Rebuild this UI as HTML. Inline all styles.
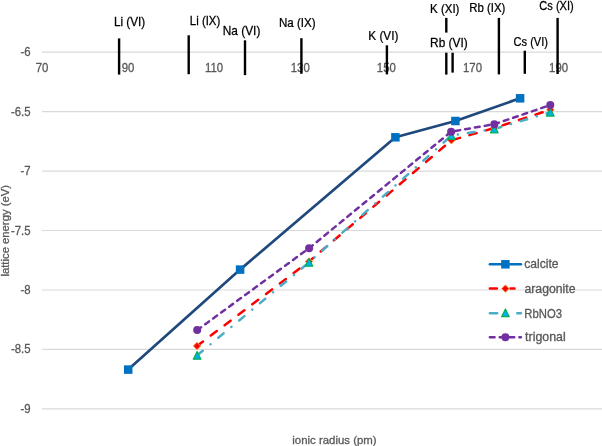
<!DOCTYPE html>
<html><head><meta charset="utf-8"><style>
html,body{margin:0;padding:0;background:#fff;}
body{width:602px;height:446px;overflow:hidden;}
svg{display:block;will-change:transform;font-family:"Liberation Sans", sans-serif;}
</style></head><body>
<svg width="602" height="446" viewBox="0 0 602 446">
<rect width="602" height="446" fill="#fff"/>
<line x1="42" y1="52.10" x2="602" y2="52.10" stroke="#D9D9D9" stroke-width="1.2"/>
<line x1="42" y1="111.57" x2="602" y2="111.57" stroke="#D9D9D9" stroke-width="1.2"/>
<line x1="42" y1="171.04" x2="602" y2="171.04" stroke="#D9D9D9" stroke-width="1.2"/>
<line x1="42" y1="230.51" x2="602" y2="230.51" stroke="#D9D9D9" stroke-width="1.2"/>
<line x1="42" y1="289.98" x2="602" y2="289.98" stroke="#D9D9D9" stroke-width="1.2"/>
<line x1="42" y1="349.45" x2="602" y2="349.45" stroke="#D9D9D9" stroke-width="1.2"/>
<line x1="42" y1="408.92" x2="602" y2="408.92" stroke="#D9D9D9" stroke-width="1.2"/>
<text transform="translate(8.7 276.54) rotate(-90) scale(0.9912 1)" font-size="11.4" fill="#595959" stroke="#595959" stroke-width="0.3">lattice energy (eV)</text>
<text transform="translate(35.64 72.20) scale(0.9500 1)" font-size="12" fill="#595959" stroke="#595959" stroke-width="0.3">70</text>
<text transform="translate(121.76 72.20) scale(0.9500 1)" font-size="12" fill="#595959" stroke="#595959" stroke-width="0.3">90</text>
<text transform="translate(205.03 72.20) scale(0.9500 1)" font-size="12" fill="#595959" stroke="#595959" stroke-width="0.3">110</text>
<text transform="translate(290.73 72.20) scale(0.9500 1)" font-size="12" fill="#595959" stroke="#595959" stroke-width="0.3">130</text>
<text transform="translate(376.85 72.20) scale(0.9500 1)" font-size="12" fill="#595959" stroke="#595959" stroke-width="0.3">150</text>
<text transform="translate(462.97 72.20) scale(0.9500 1)" font-size="12" fill="#595959" stroke="#595959" stroke-width="0.3">170</text>
<text transform="translate(549.09 72.20) scale(0.9500 1)" font-size="12" fill="#595959" stroke="#595959" stroke-width="0.3">190</text>
<line x1="119.1" y1="38.4" x2="119.1" y2="74.6" stroke="#000" stroke-width="2.4"/>
<line x1="188.7" y1="35.3" x2="188.7" y2="74.2" stroke="#000" stroke-width="2.4"/>
<line x1="245" y1="40.3" x2="245" y2="75.1" stroke="#000" stroke-width="2.4"/>
<line x1="301.4" y1="38.2" x2="301.4" y2="73.8" stroke="#000" stroke-width="2.4"/>
<line x1="386.9" y1="45.3" x2="386.9" y2="74.4" stroke="#000" stroke-width="2.4"/>
<line x1="446.3" y1="17.9" x2="446.3" y2="32.6" stroke="#000" stroke-width="2.4"/>
<line x1="446.3" y1="52.7" x2="446.3" y2="74.6" stroke="#000" stroke-width="2.4"/>
<line x1="452.6" y1="52.7" x2="452.6" y2="72.6" stroke="#000" stroke-width="2.4"/>
<line x1="498.9" y1="17.9" x2="498.9" y2="74.4" stroke="#000" stroke-width="2.4"/>
<line x1="524.8" y1="50.7" x2="524.8" y2="73.8" stroke="#000" stroke-width="2.4"/>
<line x1="557.6" y1="17.9" x2="557.6" y2="74" stroke="#000" stroke-width="2.4"/>
<text transform="translate(114.02 26.30) scale(0.9752 1)" font-size="12" fill="#000" stroke="#000" stroke-width="0.25">Li (VI)</text>
<text transform="translate(189.85 24.80) scale(0.9521 1)" font-size="12" fill="#000" stroke="#000" stroke-width="0.25">Li (IX)</text>
<text transform="translate(222.71 34.70) scale(0.9903 1)" font-size="12" fill="#000" stroke="#000" stroke-width="0.25">Na (VI)</text>
<text transform="translate(278.93 26.80) scale(0.9683 1)" font-size="12" fill="#000" stroke="#000" stroke-width="0.25">Na (IX)</text>
<text transform="translate(368.32 39.60) scale(0.9801 1)" font-size="12" fill="#000" stroke="#000" stroke-width="0.25">K (VI)</text>
<text transform="translate(430.04 13.20) scale(0.9593 1)" font-size="12" fill="#000" stroke="#000" stroke-width="0.25">K (XI)</text>
<text transform="translate(430.11 46.60) scale(0.9903 1)" font-size="12" fill="#000" stroke="#000" stroke-width="0.25">Rb (VI)</text>
<text transform="translate(469.15 11.80) scale(0.9517 1)" font-size="12" fill="#000" stroke="#000" stroke-width="0.25">Rb (IX)</text>
<text transform="translate(513.52 46.10) scale(0.9250 1)" font-size="12" fill="#000" stroke="#000" stroke-width="0.25">Cs (VI)</text>
<text transform="translate(539.32 9.60) scale(0.9222 1)" font-size="12" fill="#000" stroke="#000" stroke-width="0.25">Cs (XI)</text>
<text transform="translate(20.48 56.10) scale(0.9500 1)" font-size="12" fill="#595959" stroke="#595959" stroke-width="0.3">-6</text>
<text transform="translate(10.98 115.57) scale(0.9500 1)" font-size="12" fill="#595959" stroke="#595959" stroke-width="0.3">-6.5</text>
<text transform="translate(20.48 175.04) scale(0.9500 1)" font-size="12" fill="#595959" stroke="#595959" stroke-width="0.3">-7</text>
<text transform="translate(10.98 234.51) scale(0.9500 1)" font-size="12" fill="#595959" stroke="#595959" stroke-width="0.3">-7.5</text>
<text transform="translate(20.48 293.98) scale(0.9500 1)" font-size="12" fill="#595959" stroke="#595959" stroke-width="0.3">-8</text>
<text transform="translate(10.98 353.45) scale(0.9500 1)" font-size="12" fill="#595959" stroke="#595959" stroke-width="0.3">-8.5</text>
<text transform="translate(20.48 412.92) scale(0.9500 1)" font-size="12" fill="#595959" stroke="#595959" stroke-width="0.3">-9</text>
<text transform="translate(292.25 443.90) scale(1.0018 1)" font-size="11.4" fill="#595959" stroke="#595959" stroke-width="0.3">ionic radius (pm)</text>
<polyline points="128.2,369.6 240.1,269.6 395.4,137.3 455.4,121.0 520.1,98.3" fill="none" stroke="#1F497D" stroke-width="2.7" stroke-linejoin="round" stroke-linecap="round"/>
<polyline points="197.0,346.0 309.0,261.5 451.4,140.3 494.3,128.0 550.3,109.8" fill="none" stroke="#FF0000" stroke-width="2.5" stroke-dasharray="7.5 9.8" stroke-linecap="round"/>
<polyline points="197.1,355.4 309.0,262.4 451.4,135.6 494.3,129.0 550.3,112.3" fill="none" stroke="#4BACC6" stroke-width="2.5" stroke-dasharray="6.8 10.2 0.01 10.09" stroke-dashoffset="-0.5" stroke-linecap="round"/>
<polyline points="197.2,330.1 309.1,248.2 451.1,131.7 494.3,124.2 550.3,105.1" fill="none" stroke="#7030A0" stroke-width="2.5" stroke-dasharray="4.8 5.1" stroke-linecap="round"/>
<rect x="123.95" y="365.35" width="8.5" height="8.5" fill="#0070C0"/>
<rect x="235.85" y="265.35" width="8.5" height="8.5" fill="#0070C0"/>
<rect x="391.15" y="133.05" width="8.5" height="8.5" fill="#0070C0"/>
<rect x="451.15" y="116.75" width="8.5" height="8.5" fill="#0070C0"/>
<rect x="515.85" y="94.05" width="8.5" height="8.5" fill="#0070C0"/>
<path d="M197.0,342.3 L200.7,346.0 L197.0,349.7 L193.3,346.0 Z" fill="#FF0000" stroke="#F79646" stroke-width="1"/>
<path d="M309.0,257.8 L312.7,261.5 L309.0,265.2 L305.3,261.5 Z" fill="#FF0000" stroke="#F79646" stroke-width="1"/>
<path d="M451.4,136.60000000000002 L455.09999999999997,140.3 L451.4,144.0 L447.7,140.3 Z" fill="#FF0000" stroke="#F79646" stroke-width="1"/>
<path d="M494.3,124.3 L498.0,128.0 L494.3,131.7 L490.6,128.0 Z" fill="#FF0000" stroke="#F79646" stroke-width="1"/>
<path d="M550.3,106.1 L554.0,109.8 L550.3,113.5 L546.5999999999999,109.8 Z" fill="#FF0000" stroke="#F79646" stroke-width="1"/>
<path d="M197.1,351.59999999999997 L200.9,359.2 L193.29999999999998,359.2 Z" fill="#00B0F0" stroke="#00B050" stroke-width="1.2" stroke-linejoin="round"/>
<path d="M309.0,258.59999999999997 L312.8,266.2 L305.2,266.2 Z" fill="#00B0F0" stroke="#00B050" stroke-width="1.2" stroke-linejoin="round"/>
<path d="M451.4,131.79999999999998 L455.2,139.4 L447.59999999999997,139.4 Z" fill="#00B0F0" stroke="#00B050" stroke-width="1.2" stroke-linejoin="round"/>
<path d="M494.3,125.2 L498.1,132.8 L490.5,132.8 Z" fill="#00B0F0" stroke="#00B050" stroke-width="1.2" stroke-linejoin="round"/>
<path d="M550.3,108.5 L554.0999999999999,116.1 L546.5,116.1 Z" fill="#00B0F0" stroke="#00B050" stroke-width="1.2" stroke-linejoin="round"/>
<circle cx="197.2" cy="330.1" r="4" fill="#7030A0"/>
<circle cx="309.1" cy="248.2" r="4" fill="#7030A0"/>
<circle cx="451.1" cy="131.7" r="4" fill="#7030A0"/>
<circle cx="494.3" cy="124.2" r="4" fill="#7030A0"/>
<circle cx="550.3" cy="105.1" r="4" fill="#7030A0"/>
<line x1="489.85" y1="264.3" x2="520.95" y2="264.3" stroke="#0070C0" stroke-width="2.5" stroke-linecap="round"/>
<rect x="501.15" y="260.05" width="8.5" height="8.5" fill="#0070C0"/>
<line x1="489.85" y1="288.6" x2="520.95" y2="288.6" stroke="#FF0000" stroke-width="2.5" stroke-dasharray="7.1 13.5 4.1 100" stroke-linecap="round"/>
<path d="M505.4,284.90000000000003 L509.09999999999997,288.6 L505.4,292.3 L501.7,288.6 Z" fill="#FF0000" stroke="#F79646" stroke-width="1"/>
<line x1="489.85" y1="313.3" x2="520.95" y2="313.3" stroke="#4BACC6" stroke-width="2.5" stroke-dasharray="7.4 20 3.7 100" stroke-linecap="round"/>
<path d="M505.4,309.1 L509.2,316.70000000000005 L501.59999999999997,316.70000000000005 Z" fill="#00B0F0" stroke="#00B050" stroke-width="1.2" stroke-linejoin="round"/>
<line x1="489.85" y1="337.3" x2="520.95" y2="337.3" stroke="#7030A0" stroke-width="2.5" stroke-dasharray="4.7 5.15" stroke-linecap="round"/>
<circle cx="505.4" cy="337.3" r="4" fill="#7030A0"/>
<text transform="translate(524.30 268.20) scale(1.0091 1)" font-size="12" fill="#595959" stroke="#595959" stroke-width="0.3">calcite</text>
<text transform="translate(524.49 292.80) scale(1.0204 1)" font-size="12" fill="#595959" stroke="#595959" stroke-width="0.3">aragonite</text>
<text transform="translate(524.26 317.50) scale(0.9429 1)" font-size="12" fill="#595959" stroke="#595959" stroke-width="0.3">RbNO3</text>
<text transform="translate(525.07 341.40) scale(1.0345 1)" font-size="12" fill="#595959" stroke="#595959" stroke-width="0.3">trigonal</text>
</svg>
</body></html>
